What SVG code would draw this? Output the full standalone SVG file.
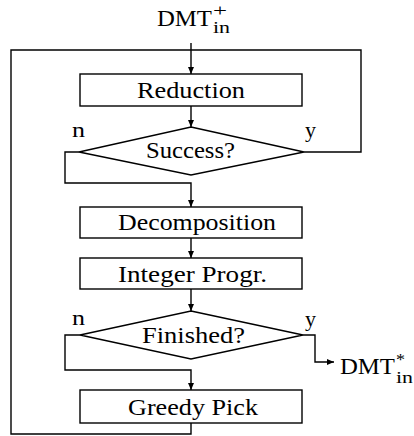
<svg xmlns="http://www.w3.org/2000/svg" width="414" height="436" viewBox="0 0 414 436" font-family="'Liberation Serif', 'Times New Roman', serif">
  <style>
    .box { fill: #fff; stroke: #000; stroke-width: 1.4; }
    .wire { fill: none; stroke: #000; stroke-width: 1.4; }
    .lbl { font-size: 24px; fill: #000; }
    .sm { font-size: 16px; fill: #000; }
    .yn { font-size: 22px; fill: #000; }
  </style>
  <defs>
    <marker id="arrow" markerUnits="userSpaceOnUse" markerWidth="8" markerHeight="8" refX="7" refY="4" orient="auto">
      <path d="M0,1 L7,4 L0,7 Z" fill="#000"/>
    </marker>
  </defs>

  <!-- connectors -->
  <g id="connectors">
    <path class="wire" d="M191,43 V74" marker-end="url(#arrow)"/>
    <path class="wire" d="M191,106 V127" marker-end="url(#arrow)"/>
    <!-- loop back from Greedy Pick and the "yes" exit of Success? -->
    <path class="wire" d="M191,423 V434 H11 V50 H361 V152 H304"/>
    <path class="wire" d="M79,152 H65 V183 H191 V207" marker-end="url(#arrow)"/>
    <path class="wire" d="M191,238 V258" marker-end="url(#arrow)"/>
    <path class="wire" d="M191,289 V311" marker-end="url(#arrow)"/>
    <path class="wire" d="M80,335 H65 V370 H191 V390" marker-end="url(#arrow)"/>
    <path class="wire" d="M303,335 H315 V362 H334" marker-end="url(#arrow)"/>
    <text class="yn" x="72" y="137" textLength="13" lengthAdjust="spacingAndGlyphs">n</text>
    <text class="yn" x="305" y="137" textLength="11" lengthAdjust="spacingAndGlyphs">y</text>
    <text class="yn" x="72" y="325" textLength="13" lengthAdjust="spacingAndGlyphs">n</text>
    <text class="yn" x="305" y="326" textLength="11" lengthAdjust="spacingAndGlyphs">y</text>
  </g>

  <!-- input -->
  <g id="input">
    <text class="lbl" x="157" y="26" textLength="55" lengthAdjust="spacingAndGlyphs">DMT</text>
    <text class="sm" x="213" y="16" textLength="14" lengthAdjust="spacingAndGlyphs">+</text>
    <text class="sm" x="213" y="33" textLength="17" lengthAdjust="spacingAndGlyphs">in</text>
  </g>

  <g id="reduction">
    <rect class="box" x="80" y="74" width="222" height="32"/>
    <text class="lbl" x="137" y="98" textLength="108" lengthAdjust="spacingAndGlyphs">Reduction</text>
  </g>

  <g id="success">
    <polygon class="box" points="191,127 304,152 191,175 79,152"/>
    <text class="lbl" x="146" y="158" textLength="89" lengthAdjust="spacingAndGlyphs">Success?</text>
  </g>

  <g id="decomposition">
    <rect class="box" x="80" y="207" width="222" height="31"/>
    <text class="lbl" x="118" y="230" textLength="158" lengthAdjust="spacingAndGlyphs">Decomposition</text>
  </g>

  <g id="integer-programming">
    <rect class="box" x="80" y="258" width="222" height="31"/>
    <text class="lbl" x="118" y="282" textLength="149" lengthAdjust="spacingAndGlyphs">Integer Progr.</text>
  </g>

  <g id="finished">
    <polygon class="box" points="191,311 303,335 191,359 80,335"/>
    <text class="lbl" x="142" y="343" textLength="103" lengthAdjust="spacingAndGlyphs">Finished?</text>
  </g>

  <g id="greedy-pick">
    <rect class="box" x="80" y="390" width="222" height="33"/>
    <text class="lbl" x="128" y="415" textLength="130" lengthAdjust="spacingAndGlyphs">Greedy Pick</text>
  </g>

  <!-- output -->
  <g id="output">
    <text class="lbl" x="340" y="374" textLength="55" lengthAdjust="spacingAndGlyphs">DMT</text>
    <text class="sm" x="396" y="365" textLength="9" lengthAdjust="spacingAndGlyphs">*</text>
    <text class="sm" x="396" y="383" textLength="17" lengthAdjust="spacingAndGlyphs">in</text>
  </g>
</svg>
